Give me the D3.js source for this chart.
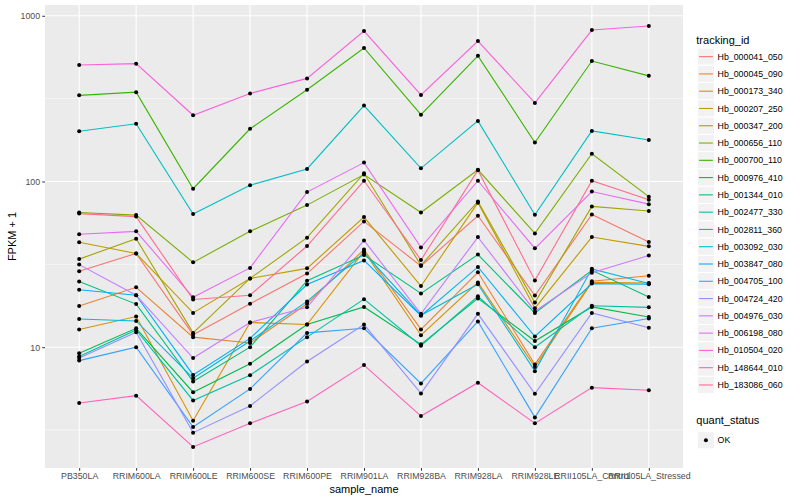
<!DOCTYPE html>
<html lang="en">
<head>
<meta charset="utf-8">
<title>FPKM by sample</title>
<script src="https://d3js.org/d3.v7.min.js"></script>
<style>
  body { margin: 0; background: #fff; }
  svg { font-family: "Liberation Sans", Arial, Helvetica, sans-serif; }
</style>
</head>
<body>
<div id="chart"></div>
<script>
// samples on the x axis
const samples = ["PB350LA", "RRIM600LA", "RRIM600LE", "RRIM600SE", "RRIM600PE", "RRIM901LA",
                 "RRIM928BA", "RRIM928LA", "RRIM928LE", "RRII105LA_Control", "RRII105LA_Stressed"];

const trackingIds = ["Hb_000041_050", "Hb_000045_090", "Hb_000173_340", "Hb_000207_250", "Hb_000347_200",
                     "Hb_000656_110", "Hb_000700_110", "Hb_000976_410", "Hb_001344_010", "Hb_002477_330",
                     "Hb_002811_360", "Hb_003092_030", "Hb_003847_080", "Hb_004705_100", "Hb_004724_420",
                     "Hb_004976_030", "Hb_006198_080", "Hb_010504_020", "Hb_148644_010", "Hb_183086_060"];

// FPKM + 1, one row per tracking id, one value per sample
const fpkmPlus1 = [
  [28.7, 36.8, 11.9, 18.3, 27.8, 57.4, 30.9, 62.1, 20.5, 63.2, 43.2],
  [17.7, 23, 11.5, 10.6, 18.3, 38.8, 12.8, 28.3, 7.87, 25, 27],
  [12.8, 15.3, 3.6, 14.1, 13.7, 37.9, 11.8, 24.6, 7.6, 24.6, 24.4],
  [43, 36.8, 16.1, 26, 29.9, 61, 23.4, 74.5, 17.2, 46.2, 40.6],
  [34, 45.2, 12.2, 26, 45.8, 112, 31.2, 75.8, 18.6, 70.7, 66.3],
  [65, 62.7, 32.5, 50, 72, 110, 65, 117.6, 48.6, 147, 81],
  [331, 346, 90.4, 208, 358, 639, 253, 573, 172, 533, 434],
  [9.2, 13, 5.35, 7.95, 13.7, 17.5, 10.4, 19.7, 10.9, 17.5, 15.2],
  [24.9, 18.2, 6.2, 10.0, 25.2, 36, 21.1, 36.2, 16.1, 29.1, 20.1],
  [8.8, 12.7, 4.77, 6.78, 11.5, 19.5, 10.2, 20.3, 10.0, 17.8, 17.4],
  [201, 223, 63.6, 95, 119, 287, 120, 232, 63, 202, 178],
  [14.8, 14.4, 6.5, 10.9, 18.9, 37.1, 15.6, 24.0, 7.17, 29.7, 24.2],
  [22.2, 20.6, 6.8, 11.3, 23.9, 33.4, 15.5, 30.5, 11.6, 24.2, 24.0],
  [8.3, 10, 3.3, 5.6, 12.2, 13.0, 6.04, 14.3, 3.77, 13, 14.9],
  [8.6, 12.3, 3.05, 4.42, 8.2, 13.7, 5.26, 15.9, 5.24, 16.1, 13.1],
  [31.5, 20.6, 8.6, 14.1, 17.4, 44.1, 15.9, 46.2, 16.5, 28.1, 35.8],
  [48, 50, 20, 30.1, 86.3, 130, 40, 101, 39.5, 87, 73],
  [505, 514, 251, 340, 419, 809, 333, 704, 298, 820, 867],
  [4.6, 5.1, 2.5, 3.47, 4.7, 7.8, 3.84, 6.1, 3.47, 5.7, 5.5],
  [64, 61.4, 19.4, 20.6, 40.8, 101, 33.6, 117, 25.3, 101, 77.6]
];

const quantStatus = ["OK"];
const yTicks = [10, 100, 1000];
const yMinor = [Math.sqrt(10), Math.sqrt(1000), Math.sqrt(100000)];

// ggplot hue palette, 20 levels
const palette = ["#F8766D", "#EA8331", "#D89000", "#C09B00", "#A3A500", "#7CAE00", "#39B600", "#00BB4E",
                 "#00BF7D", "#00C1A3", "#00BFC4", "#00BAE0", "#00B0F6", "#35A2FF", "#9590FF", "#C77CFF",
                 "#E76BF3", "#FA62DB", "#FF62BC", "#FF6C91"];

var width = 800, height = 500;
var margin = {top: 5, right: 117, bottom: 32, left: 45};
var panelR = width - margin.right, panelB = height - margin.bottom;

var svg = d3.select("#chart").append("svg")
    .attr("width", width).attr("height", height)
    .attr("viewBox", [0, 0, width, height]);

var x = d3.scalePoint()
    .domain(samples)
    .range([margin.left, panelR])
    .padding(0.6);

var all = fpkmPlus1.flat();
var lo = Math.log10(d3.min(all)), hi = Math.log10(d3.max(all));
var pad = (hi - lo) * 0.05;
var y = d3.scaleLog()
    .domain([Math.pow(10, lo - pad), Math.pow(10, hi + pad)])
    .range([panelB, margin.top]);

var color = d3.scaleOrdinal().domain(trackingIds).range(palette);

// panel
svg.append("rect")
    .attr("x", margin.left).attr("y", margin.top)
    .attr("width", panelR - margin.left).attr("height", panelB - margin.top)
    .attr("fill", "#EBEBEB");

var grid = svg.append("g").attr("stroke", "#fff");
grid.selectAll(".minor").data(yMinor.filter(v => v > y.domain()[0] && v < y.domain()[1]))
  .join("line").attr("class", "minor")
    .attr("x1", margin.left).attr("x2", panelR)
    .attr("y1", d => y(d)).attr("y2", d => y(d))
    .attr("stroke-width", 0.55);
grid.selectAll(".major").data(yTicks)
  .join("line").attr("class", "major")
    .attr("x1", margin.left).attr("x2", panelR)
    .attr("y1", d => y(d)).attr("y2", d => y(d))
    .attr("stroke-width", 1.1);
grid.selectAll(".vmajor").data(samples)
  .join("line").attr("class", "vmajor")
    .attr("x1", d => x(d)).attr("x2", d => x(d))
    .attr("y1", margin.top).attr("y2", panelB)
    .attr("stroke-width", 1.1);

// lines
var line = d3.line()
    .x((d, i) => x(samples[i]))
    .y(d => y(d));

svg.append("g")
    .attr("fill", "none")
    .attr("stroke-width", 1.1)
  .selectAll("path")
  .data(fpkmPlus1)
  .join("path")
    .attr("stroke", (d, i) => color(trackingIds[i]))
    .attr("d", line);

// points
svg.append("g")
    .attr("fill", "#000")
  .selectAll("g")
  .data(fpkmPlus1)
  .join("g")
  .selectAll("circle")
  .data(d => d)
  .join("circle")
    .attr("cx", (d, i) => x(samples[i]))
    .attr("cy", d => y(d))
    .attr("r", 2);

// axes
var xAxis = g => g
    .attr("transform", `translate(0,${panelB})`)
    .call(d3.axisBottom(x).tickSize(2.75).tickPadding(2.2))
    .call(g => g.select(".domain").remove());

var yAxis = g => g
    .attr("transform", `translate(${margin.left},0)`)
    .call(d3.axisLeft(y).tickValues(yTicks).tickFormat(d3.format("d")).tickSize(2.75).tickPadding(2.2))
    .call(g => g.select(".domain").remove());

svg.append("g").call(xAxis);
svg.append("g").call(yAxis);

svg.selectAll(".tick line").attr("stroke", "#333");
svg.selectAll(".tick text").attr("fill", "#4D4D4D")
    .style("font-size", "8.8px").style("font-family", "inherit");

svg.append("text")
    .attr("x", (margin.left + panelR) / 2).attr("y", 493)
    .attr("text-anchor", "middle")
    .style("font-size", "11px")
    .text("sample_name");

svg.append("text")
    .attr("transform", `translate(16,${(margin.top + panelB) / 2}) rotate(-90)`)
    .attr("text-anchor", "middle")
    .style("font-size", "11px")
    .text("FPKM + 1");

// legends
var keySize = 17.28, legX = 697.3;
var leg = svg.append("g");
leg.append("text")
    .attr("x", legX - 1).attr("y", 44)
    .style("font-size", "11px")
    .text("tracking_id");

var keys = leg.selectAll("g.key")
  .data(trackingIds)
  .join("g").attr("class", "key")
    .attr("transform", (d, i) => `translate(${legX},${48 + i * keySize})`);
keys.append("rect")
    .attr("width", keySize).attr("height", keySize)
    .attr("fill", "#F2F2F2").attr("stroke", "#fff");
keys.append("line")
    .attr("x1", keySize * 0.1).attr("x2", keySize * 0.9)
    .attr("y1", keySize / 2).attr("y2", keySize / 2)
    .attr("stroke", d => color(d)).attr("stroke-width", 1.1);
keys.append("text")
    .attr("x", keySize + 3).attr("y", keySize / 2).attr("dy", "0.35em")
    .style("font-size", "8.8px")
    .text(d => d);

var qTop = 48 + trackingIds.length * keySize + 18;
leg.append("text")
    .attr("x", legX - 1).attr("y", qTop + 12)
    .style("font-size", "11px")
    .text("quant_status");

var qkeys = leg.selectAll("g.qkey")
  .data(quantStatus)
  .join("g").attr("class", "qkey")
    .attr("transform", (d, i) => `translate(${legX},${qTop + 20 + i * keySize})`);
qkeys.append("rect")
    .attr("width", keySize).attr("height", keySize)
    .attr("fill", "#F2F2F2").attr("stroke", "#fff");
qkeys.append("circle")
    .attr("cx", keySize / 2).attr("cy", keySize / 2).attr("r", 2)
    .attr("fill", "#000");
qkeys.append("text")
    .attr("x", keySize + 3).attr("y", keySize / 2).attr("dy", "0.35em")
    .style("font-size", "8.8px")
    .text(d => d);
</script>
</body>
</html>
